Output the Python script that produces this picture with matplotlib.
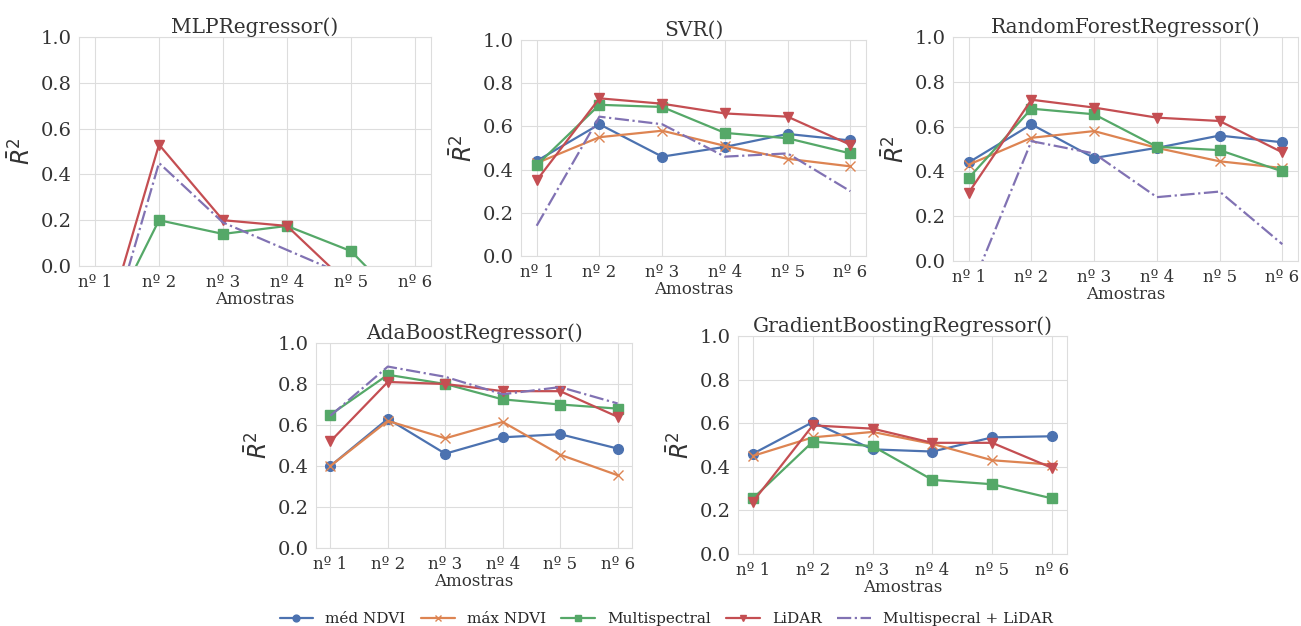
import numpy as np
import matplotlib
matplotlib.use('Agg')
import matplotlib.pyplot as plt
import seaborn as sns

# ===========================================
# DATA
# ===========================================
amostras = ['nº 1', 'nº 2', 'nº 3', 'nº 4', 'nº 5', 'nº 6']
series_names = ['méd NDVI', 'máx NDVI', 'Multispectral', 'LiDAR', 'Multispecral + LiDAR']

# MLPRegressor: blue / orange fall entirely below zero
mlp_med = [-1.0, -1.0, -1.0, -1.0, -1.0, -1.0]
mlp_max = [-1.0, -1.0, -1.0, -1.0, -1.0, -1.0]
mlp_multi = [-0.36, 0.20, 0.14, 0.175, 0.065, -0.22]
mlp_lidar = [-0.42, 0.53, 0.20, 0.175, -0.09, -0.5]
mlp_both = [-0.51, 0.45, 0.19, 0.07, -0.05, -0.5]

svr_med = [0.44, 0.61, 0.46, 0.505, 0.565, 0.535]
svr_max = [0.43, 0.55, 0.58, 0.51, 0.45, 0.415]
svr_multi = [0.42, 0.70, 0.69, 0.57, 0.545, 0.475]
svr_lidar = [0.35, 0.73, 0.705, 0.66, 0.645, 0.515]
svr_both = [0.14, 0.645, 0.61, 0.46, 0.475, 0.30]

rf_med = [0.44, 0.61, 0.46, 0.505, 0.56, 0.53]
rf_max = [0.43, 0.55, 0.58, 0.505, 0.445, 0.415]
rf_multi = [0.37, 0.68, 0.655, 0.51, 0.495, 0.40]
rf_lidar = [0.305, 0.72, 0.685, 0.64, 0.625, 0.485]
rf_both = [-0.15, 0.535, 0.48, 0.285, 0.31, 0.075]

ada_med = [0.40, 0.63, 0.46, 0.54, 0.555, 0.485]
ada_max = [0.40, 0.62, 0.535, 0.615, 0.455, 0.355]
ada_multi = [0.65, 0.845, 0.80, 0.725, 0.70, 0.68]
ada_lidar = [0.52, 0.81, 0.80, 0.765, 0.765, 0.64]
ada_both = [0.645, 0.885, 0.835, 0.75, 0.785, 0.705]

gb_med = [0.46, 0.605, 0.48, 0.47, 0.535, 0.54]
gb_max = [0.45, 0.535, 0.56, 0.505, 0.43, 0.41]
gb_multi = [0.255, 0.515, 0.495, 0.34, 0.32, 0.255]
gb_lidar = [0.24, 0.59, 0.575, 0.51, 0.51, 0.395]
gb_both = [-1.0, -1.0, -1.0, -1.0, -1.0, -1.0]

models = {
    'MLPRegressor()': [mlp_med, mlp_max, mlp_multi, mlp_lidar, mlp_both],
    'SVR()': [svr_med, svr_max, svr_multi, svr_lidar, svr_both],
    'RandomForestRegressor()': [rf_med, rf_max, rf_multi, rf_lidar, rf_both],
    'AdaBoostRegressor()': [ada_med, ada_max, ada_multi, ada_lidar, ada_both],
    'GradientBoostingRegressor()': [gb_med, gb_max, gb_multi, gb_lidar, gb_both],
}

# ===========================================
# STYLE
# ===========================================
sns.set_style('whitegrid')
plt.rcParams['font.family'] = ['DejaVu Serif']
plt.rcParams['axes.edgecolor'] = '#dddddd'
plt.rcParams['grid.color'] = '#dddddd'

pal = sns.color_palette('deep')
styles = [
    dict(color=pal[0], marker='o', ls='-'),
    dict(color=pal[1], marker='x', ls='-'),
    dict(color=pal[2], marker='s', ls='-'),
    dict(color=pal[3], marker='v', ls='-'),
    dict(color=pal[4], marker='', ls='-.'),
]

W, H = 1301, 626
fig = plt.figure(figsize=(W / 100, H / 100), dpi=100)

# axes boxes in pixels: left, top, right, bottom
boxes = [
    (79, 37, 431, 266),
    (521, 40, 866, 256),
    (953, 37, 1298, 261),
    (316, 343, 632, 548),
    (738, 336, 1067, 554),
]

handles = None
for (title, vals), (l, t, r, b) in zip(models.items(), boxes):
    ax = fig.add_axes([l / W, 1 - b / H, (r - l) / W, (b - t) / H])
    x = np.arange(len(amostras))
    hs = []
    for v, st, name in zip(vals, styles, series_names):
        h, = ax.plot(x, v, color=st['color'], marker=st['marker'], ls=st['ls'],
                     lw=1.6, markersize=7, label=name)
        hs.append(h)
    if title == 'SVR()':
        handles = hs
    ax.set_ylim(0, 1)
    ax.set_xlim(-0.25, 5.25)
    ax.set_xticks(x)
    ax.set_xticklabels(amostras, fontsize=12, color='#333333')
    ax.set_yticks(np.arange(0, 1.01, 0.2))
    ax.set_yticklabels([f'{v:.1f}' for v in np.arange(0, 1.01, 0.2)],
                       fontsize=14, color='#333333')
    ax.tick_params(axis='both', pad=2)
    ax.set_title(title, fontsize=14.5, pad=3, color='#333333')
    ax.set_xlabel('Amostras', fontsize=12, labelpad=0, color='#333333')
    ax.set_ylabel(r'$\bar{R}^2$', fontsize=17, labelpad=4, color='#333333')
    for s in ax.spines.values():
        s.set_color('#dddddd')

fig.legend(handles, series_names, loc='center', bbox_to_anchor=(0.512, 1 - 619 / H),
           ncol=5, frameon=False, fontsize=11, handlelength=2.2,
           handletextpad=0.8, columnspacing=1.0, markerscale=0.7)

fig.savefig('out.png', dpi=100)
